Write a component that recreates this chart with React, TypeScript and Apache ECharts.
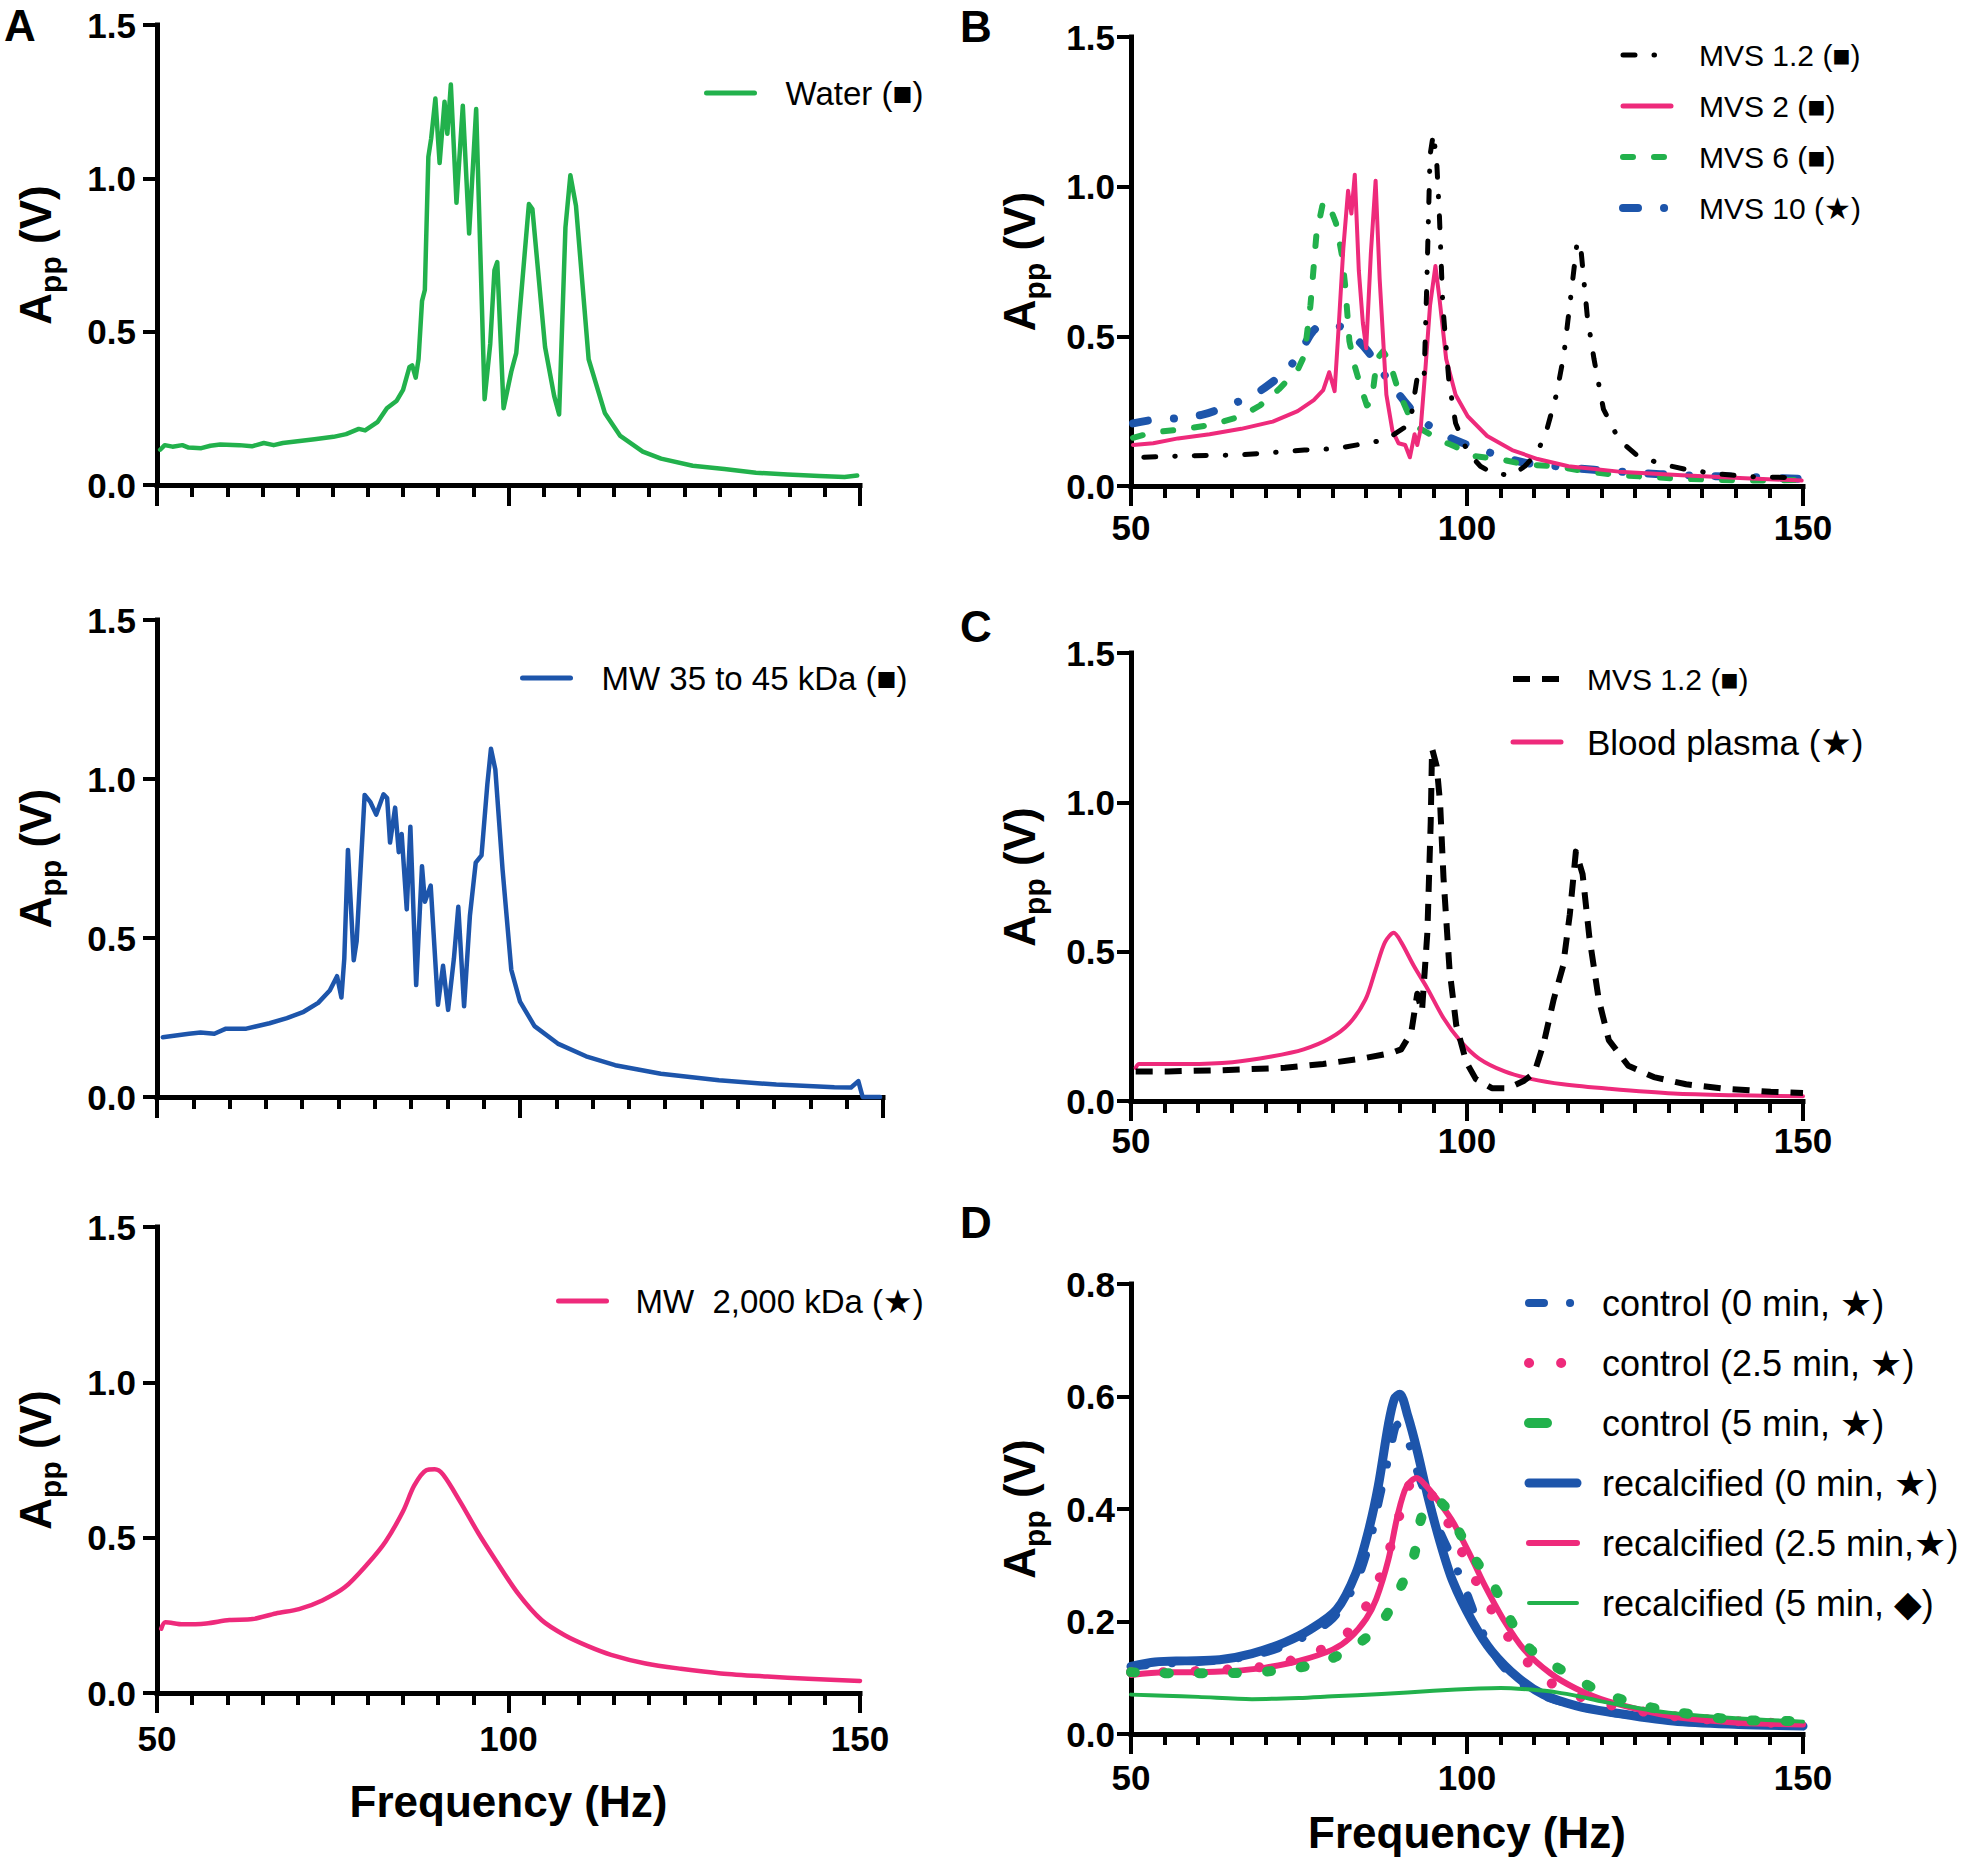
import React, { useEffect, useRef } from "react";
import * as echarts from "echarts";

const FONT = "'Liberation Sans', Arial, 'DejaVu Sans', sans-serif";
const GREEN = "#22b14c";
const BLUE = "#1d55ab";
const PINK = "#ee2a7b";
const BLACK = "#000000";

// Tick labels
const freqTicks = [50, 100, 150];
const ampTicks = [0, 0.5, 1.0, 1.5];
const ampTicksD = [0, 0.2, 0.4, 0.6, 0.8];

// Panel A (top): Water
const waterHz = [50.45, 51.1, 52.2, 53.6, 54.5, 56.3, 57.6, 59.0, 61.7, 63.5, 65.2, 66.6, 67.9, 72.4, 75.1, 76.9, 78.7, 79.6, 81.4, 82.7, 84.1, 85.0, 85.9, 86.3, 86.8, 87.2, 87.7, 88.1, 88.6, 89.0, 89.6, 90.2, 90.9, 91.3, 91.8, 92.6, 93.5, 94.4, 95.4, 96.6, 97.4, 98.0, 98.4, 99.3, 100.4, 101.1, 102.9, 103.4, 105.2, 106.5, 107.2, 108.1, 108.8, 109.6, 111.4, 113.7, 115.9, 119.1, 121.7, 126.2, 130.7, 135.2, 139.7, 144.2, 147.8, 149.6];
const waterAmp = [0.115, 0.13, 0.125, 0.13, 0.122, 0.12, 0.128, 0.132, 0.13, 0.126, 0.137, 0.13, 0.137, 0.149, 0.157, 0.166, 0.183, 0.178, 0.206, 0.25, 0.275, 0.31, 0.384, 0.39, 0.35, 0.41, 0.6, 0.636, 1.07, 1.13, 1.26, 1.05, 1.25, 1.145, 1.306, 0.92, 1.237, 0.82, 1.226, 0.28, 0.46, 0.7, 0.727, 0.25, 0.37, 0.43, 0.916, 0.9, 0.45, 0.29, 0.23, 0.84, 1.01, 0.91, 0.41, 0.235, 0.16, 0.109, 0.086, 0.063, 0.052, 0.04, 0.034, 0.029, 0.026, 0.031];

// Panel A (middle): MW 35 to 45 kDa
const mw35Hz = [50.8, 54.4, 56.0, 57.9, 59.5, 62.3, 65.5, 67.9, 70.2, 72.2, 73.8, 74.8, 75.4, 75.8, 76.3, 77.1, 77.5, 78.6, 79.4, 80.2, 81.2, 81.7, 82.1, 82.8, 83.3, 83.7, 84.4, 84.9, 85.7, 86.5, 86.9, 87.7, 88.7, 89.4, 90.1, 90.9, 91.5, 92.3, 93.1, 93.9, 94.7, 95.5, 96.0, 96.6, 97.6, 98.8, 100.0, 102.0, 105.2, 109.1, 113.1, 119.4, 127.4, 135.3, 143.3, 145.6, 146.6, 147.2, 149.6];
const mw35Amp = [0.188, 0.199, 0.203, 0.199, 0.215, 0.215, 0.232, 0.248, 0.268, 0.296, 0.335, 0.38, 0.313, 0.436, 0.777, 0.43, 0.49, 0.95, 0.927, 0.888, 0.952, 0.94, 0.8, 0.91, 0.77, 0.827, 0.59, 0.85, 0.352, 0.726, 0.614, 0.665, 0.29, 0.413, 0.274, 0.436, 0.598, 0.285, 0.57, 0.737, 0.76, 0.983, 1.095, 1.03, 0.715, 0.4, 0.3, 0.223, 0.168, 0.128, 0.1, 0.073, 0.053, 0.039, 0.031, 0.03, 0.05, 0.0, 0.0];

// Panel A (bottom): MW 2,000 kDa
const mw2000Hz = [50.6, 51.2, 53.7, 57.0, 60.3, 63.6, 66.9, 70.2, 73.5, 76.7, 80.0, 82.5, 85.0, 86.6, 88.3, 89.5, 90.7, 93.2, 95.7, 98.1, 101.4, 104.7, 108.0, 111.3, 114.6, 119.5, 124.5, 130.2, 136.8, 142.6, 150.0];
const mw2000Amp = [0.207, 0.228, 0.221, 0.224, 0.235, 0.238, 0.256, 0.27, 0.298, 0.34, 0.417, 0.487, 0.585, 0.668, 0.717, 0.72, 0.703, 0.613, 0.515, 0.43, 0.319, 0.235, 0.186, 0.151, 0.123, 0.095, 0.078, 0.063, 0.053, 0.046, 0.039];

// Panel B
const mvs12bHz = [51.9, 57.0, 66.4, 75.8, 80.5, 85.1, 88.0, 90.8, 91.7, 92.6, 93.6, 94.0, 94.5, 95.0, 95.5, 95.9, 96.4, 97.3, 98.3, 100.1, 102.0, 103.9, 106.7, 108.6, 110.5, 111.9, 113.3, 114.4, 115.6, 116.4, 117.0, 117.9, 118.9, 120.3, 122.6, 125.4, 129.2, 132.9, 136.7, 141.4, 149.8];
const mvs12bAmp = [0.096, 0.1, 0.104, 0.12, 0.125, 0.143, 0.155, 0.197, 0.233, 0.364, 0.35, 0.66, 1.105, 1.177, 1.08, 0.9, 0.603, 0.352, 0.21, 0.113, 0.066, 0.042, 0.036, 0.066, 0.113, 0.19, 0.305, 0.436, 0.663, 0.818, 0.78, 0.567, 0.424, 0.257, 0.155, 0.1, 0.072, 0.054, 0.042, 0.032, 0.027];

const mvs2Hz = [50.3, 53.3, 57.0, 61.7, 66.4, 71.1, 74.8, 77.2, 78.6, 79.5, 80.3, 80.9, 81.6, 82.3, 82.8, 83.3, 83.9, 84.5, 85.0, 85.7, 86.4, 87.0, 88.0, 88.9, 89.8, 90.8, 91.5, 92.2, 92.6, 93.1, 93.8, 94.5, 95.3, 95.9, 96.9, 98.3, 100.1, 103.0, 106.7, 110.5, 115.1, 122.6, 132.0, 141.4, 149.8];
const mvs2Amp = [0.137, 0.143, 0.159, 0.173, 0.191, 0.215, 0.25, 0.287, 0.32, 0.38, 0.317, 0.53, 0.795, 0.986, 0.91, 1.04, 0.72, 0.545, 0.46, 0.78, 1.02, 0.693, 0.305, 0.185, 0.143, 0.137, 0.096, 0.173, 0.137, 0.19, 0.388, 0.603, 0.735, 0.627, 0.424, 0.305, 0.233, 0.167, 0.12, 0.09, 0.066, 0.048, 0.036, 0.026, 0.018];

const mvs6Hz = [50.3, 53.3, 57.0, 61.7, 66.4, 69.2, 72.0, 74.8, 75.8, 76.7, 77.6, 78.6, 79.5, 80.5, 81.4, 81.9, 82.5, 83.3, 84.2, 85.1, 85.8, 86.6, 87.5, 88.4, 89.8, 91.2, 92.6, 94.5, 96.4, 98.3, 101.1, 104.8, 108.6, 113.3, 117.9, 122.6, 132.0, 141.4, 149.8];
const mvs6Amp = [0.161, 0.179, 0.188, 0.203, 0.233, 0.269, 0.323, 0.388, 0.436, 0.603, 0.842, 0.95, 0.937, 0.878, 0.77, 0.663, 0.484, 0.4, 0.33, 0.269, 0.28, 0.424, 0.45, 0.42, 0.317, 0.245, 0.197, 0.173, 0.149, 0.131, 0.1, 0.09, 0.072, 0.066, 0.048, 0.036, 0.024, 0.018, 0.02];

const mvs10Hz = [50.3, 53.3, 57.0, 60.8, 64.5, 68.3, 72.0, 73.9, 75.8, 77.2, 78.6, 80.0, 81.4, 83.3, 85.1, 86.6, 88.9, 91.2, 93.6, 96.4, 100.1, 103.9, 108.6, 113.3, 118.9, 125.4, 132.0, 141.4, 149.8];
const mvs10Amp = [0.209, 0.221, 0.227, 0.239, 0.269, 0.305, 0.364, 0.406, 0.472, 0.52, 0.538, 0.538, 0.53, 0.496, 0.454, 0.406, 0.335, 0.269, 0.215, 0.173, 0.137, 0.108, 0.078, 0.066, 0.054, 0.044, 0.036, 0.03, 0.024];

// Panel C
const mvs12cHz = [50.7, 55.5, 63.2, 72.9, 78.6, 84.4, 88.8, 90.2, 91.7, 92.6, 93.3, 94.1, 94.6, 94.8, 95.5, 96.0, 96.5, 97.4, 98.4, 99.9, 101.3, 103.7, 106.1, 108.5, 110.0, 111.4, 112.9, 114.3, 115.3, 116.2, 117.2, 118.2, 119.6, 121.1, 124.0, 127.8, 132.6, 138.4, 145.2, 150.0];
const mvs12cAmp = [0.099, 0.099, 0.103, 0.111, 0.124, 0.142, 0.161, 0.173, 0.229, 0.359, 0.3, 0.563, 0.934, 1.18, 1.12, 0.996, 0.749, 0.44, 0.254, 0.13, 0.074, 0.043, 0.043, 0.068, 0.093, 0.192, 0.34, 0.452, 0.625, 0.835, 0.76, 0.55, 0.34, 0.204, 0.118, 0.08, 0.056, 0.041, 0.031, 0.027];

const plasmaHz = [50.7, 51.2, 58.4, 65.1, 70.9, 75.7, 79.6, 82.5, 84.9, 86.4, 87.8, 89.1, 90.2, 92.1, 94.1, 96.5, 98.9, 101.8, 105.6, 109.5, 114.3, 121.1, 130.7, 140.4, 150.0];
const plasmaAmp = [0.111, 0.124, 0.124, 0.13, 0.149, 0.173, 0.21, 0.26, 0.34, 0.44, 0.532, 0.563, 0.532, 0.452, 0.377, 0.278, 0.204, 0.142, 0.099, 0.074, 0.056, 0.041, 0.025, 0.019, 0.016];

// Panel D
const ctrl0Hz = [50, 55, 60, 65, 70, 75, 80, 83.5, 85.5, 87, 88.5, 89.7, 91, 92.1, 94, 96, 97.9, 100, 101.8, 104.7, 108, 112, 117, 122, 130, 140, 150];
const ctrl0Amp = [0.12, 0.125, 0.128, 0.133, 0.145, 0.168, 0.205, 0.27, 0.34, 0.42, 0.5, 0.55, 0.53, 0.484, 0.42, 0.36, 0.31, 0.25, 0.194, 0.13, 0.09, 0.065, 0.048, 0.037, 0.027, 0.02, 0.016];

const ctrl25Hz = [50, 55, 60, 65, 70, 75, 80, 83, 86, 88, 89.5, 91, 92, 93.5, 95, 97, 99, 101, 103, 106, 110, 114, 120, 130, 140, 150];
const ctrl25Amp = [0.11, 0.11, 0.112, 0.115, 0.12, 0.135, 0.16, 0.19, 0.25, 0.31, 0.37, 0.43, 0.45, 0.445, 0.42, 0.38, 0.33, 0.28, 0.235, 0.175, 0.115, 0.08, 0.055, 0.033, 0.023, 0.018];

const ctrl5Hz = [50, 53.6, 58, 63.2, 71, 77.7, 82.5, 86.4, 88.3, 90.2, 92.1, 93.1, 94.1, 95.5, 97, 100, 101.8, 103.7, 106.6, 109.5, 115.3, 119.6, 125, 130.7, 140.4, 150];
const ctrl5Amp = [0.11, 0.108, 0.108, 0.108, 0.112, 0.125, 0.15, 0.186, 0.217, 0.263, 0.317, 0.38, 0.407, 0.415, 0.4, 0.333, 0.3, 0.27, 0.2, 0.15, 0.105, 0.077, 0.054, 0.04, 0.025, 0.023];

const recal0Hz = [50, 53.6, 58, 63.2, 68, 72.9, 76.7, 80.6, 83.5, 85.4, 86.8, 88.3, 89.2, 90, 91.2, 92.6, 94.1, 96, 97.9, 100.8, 103.7, 107.6, 111.4, 116.3, 121.1, 130.7, 140.4, 150];
const recal0Amp = [0.12, 0.128, 0.13, 0.132, 0.143, 0.163, 0.186, 0.221, 0.287, 0.364, 0.441, 0.55, 0.596, 0.604, 0.565, 0.503, 0.426, 0.341, 0.271, 0.2, 0.147, 0.1, 0.07, 0.05, 0.039, 0.023, 0.017, 0.014];

const recal25Hz = [50, 55, 60, 65, 70, 75, 80, 82.5, 85, 86.5, 88.3, 89.7, 91, 92.5, 94, 96, 98, 100.8, 102.7, 105.6, 108.5, 112.4, 116.2, 121, 130.7, 140.4, 150];
const recal25Amp = [0.105, 0.11, 0.11, 0.112, 0.118, 0.13, 0.15, 0.17, 0.205, 0.24, 0.31, 0.39, 0.44, 0.455, 0.44, 0.41, 0.375, 0.31, 0.263, 0.2, 0.15, 0.108, 0.081, 0.058, 0.031, 0.02, 0.017];

const recal5Hz = [50, 55, 60, 68, 75, 80, 87.3, 95, 101.8, 105, 109.5, 113.4, 117, 120, 125, 130, 140, 150];
const recal5Amp = [0.07, 0.068, 0.066, 0.062, 0.064, 0.067, 0.071, 0.077, 0.081, 0.082, 0.079, 0.074, 0.066, 0.058, 0.047, 0.038, 0.028, 0.022];

const pairs = (xs: number[], ys: number[]) => xs.map((x, i) => [x, ys[i]]);

function xAxisCfg(gridIndex: number, showLabels: boolean, labelMargin: number, name: string, nameGap: number, majorLen: number, minorLen: number) {
  return {
    type: "value",
    gridIndex,
    min: freqTicks[0],
    max: freqTicks[freqTicks.length - 1],
    interval: freqTicks[1] - freqTicks[0],
    axisLine: { show: true, onZero: false, lineStyle: { color: BLACK, width: 5, cap: "square" } },
    axisTick: { show: true, length: majorLen, lineStyle: { color: BLACK, width: 4 } },
    minorTick: { show: true, splitNumber: 10, length: minorLen, lineStyle: { color: BLACK, width: 4 } },
    splitLine: { show: false },
    minorSplitLine: { show: false },
    axisLabel: { show: showLabels, margin: labelMargin, fontSize: 35, fontWeight: "bold", color: BLACK, fontFamily: FONT },
    name,
    nameLocation: "middle",
    nameGap,
    nameTextStyle: { fontSize: 44, fontWeight: "bold", color: BLACK, fontFamily: FONT },
  };
}

function yAxisCfg(gridIndex: number, ticks: number[], labelMargin: number, nameGap: number) {
  return {
    type: "value",
    gridIndex,
    min: ticks[0],
    max: ticks[ticks.length - 1],
    interval: +(ticks[1] - ticks[0]).toFixed(3),
    axisLine: { show: true, onZero: false, lineStyle: { color: BLACK, width: 5, cap: "square" } },
    axisTick: { show: true, length: 14, lineStyle: { color: BLACK, width: 4 } },
    splitLine: { show: false },
    axisLabel: {
      margin: labelMargin,
      fontSize: 35,
      fontWeight: "bold",
      color: BLACK,
      fontFamily: FONT,
      formatter: (v: number) => v.toFixed(1),
    },
    name: "{a|A}{b|pp}{a| (V)}",
    nameLocation: "middle",
    nameRotate: 90,
    nameGap,
    nameTextStyle: {
      rich: {
        a: { fontSize: 44, fontWeight: "bold", fontFamily: FONT, color: BLACK, lineHeight: 60 },
        b: { fontSize: 30, fontWeight: "bold", fontFamily: FONT, color: BLACK, lineHeight: 40, verticalAlign: "bottom" },
      },
    },
  };
}

function line(name: string, idx: number, xs: number[], ys: number[], color: string, width: number, type: any, cap: string, smooth: number | boolean) {
  return {
    type: "line",
    name,
    xAxisIndex: idx,
    yAxisIndex: idx,
    data: pairs(xs, ys),
    showSymbol: false,
    symbol: "none",
    smooth,
    clip: false,
    silent: true,
    lineStyle: { color, width, type, cap, join: "round" },
    itemStyle: { color },
    emphasis: { disabled: true },
  };
}

const DASH_DOT_THIN = [12, 19, 0.5, 19];
const DASH_DOT_THICK = [15, 26, 0.1, 26];
const DASH_GREEN = [10, 21];
const DASH_BLACK = [17, 12];
const DOTS = [0.1, 32];
const DASH_SPARSE = [4, 30];
const DASH_LEGEND_GREEN = [18, 36];

function legendCfg(left: number, top: number, fontSize: number, lineHeight: number, gap: number, pad: number, items: any[], formatter?: (n: string) => string) {
  const cfg: any = {
    left,
    top,
    orient: "vertical",
    itemWidth: 48,
    itemHeight: 14,
    itemGap: gap,
    padding: 0,
    selectedMode: false,
    itemStyle: { opacity: 0 },
    textStyle: { fontFamily: FONT, fontSize, lineHeight, color: BLACK, padding: [0, 0, 0, pad] },
    data: items,
  };
  if (formatter) cfg.formatter = formatter;
  return cfg;
}

export default function App() {
  const ref = useRef<HTMLDivElement>(null);

  useEffect(() => {
    document.body.style.margin = "0";
    if (!ref.current) return;
    const chart = echarts.init(ref.current, undefined, { renderer: "svg" });

    const titleStyle = { fontSize: 44, fontWeight: "bold", color: BLACK, fontFamily: FONT };
    const option: any = {
      animation: false,
      backgroundColor: "#ffffff",
      title: [
        { text: "A", left: 4, top: 3, padding: 0, textStyle: titleStyle },
        { text: "B", left: 960, top: 4, padding: 0, textStyle: titleStyle },
        { text: "C", left: 960, top: 604, padding: 0, textStyle: titleStyle },
        { text: "D", left: 960, top: 1200, padding: 0, textStyle: titleStyle },
      ],
      grid: [
        { left: 157, top: 25, width: 703, height: 460, outerBoundsMode: "none" },
        { left: 157, top: 620, width: 726, height: 477, outerBoundsMode: "none" },
        { left: 157, top: 1227, width: 703, height: 466, outerBoundsMode: "none" },
        { left: 1131, top: 37, width: 672, height: 449, outerBoundsMode: "none" },
        { left: 1131, top: 653, width: 672, height: 448, outerBoundsMode: "none" },
        { left: 1131, top: 1284, width: 672, height: 450, outerBoundsMode: "none" },
      ],
      xAxis: [
        xAxisCfg(0, false, 26, "", 0, 21, 12),
        xAxisCfg(1, false, 26, "", 0, 21, 12),
        xAxisCfg(2, true, 28, "Frequency (Hz)", 86, 20, 12),
        xAxisCfg(3, true, 24, "", 0, 20, 12),
        xAxisCfg(4, true, 22, "", 0, 20, 12),
        xAxisCfg(5, true, 26, "Frequency (Hz)", 76, 20, 11),
      ],
      yAxis: [
        yAxisCfg(0, ampTicks, 21, 92),
        yAxisCfg(1, ampTicks, 21, 92),
        yAxisCfg(2, ampTicks, 21, 92),
        yAxisCfg(3, ampTicks, 16, 82),
        yAxisCfg(4, ampTicks, 16, 82),
        yAxisCfg(5, ampTicksD, 16, 82),
      ],
      legend: [
        legendCfg(704, 74, 33, 38, 10, 26, [{ name: "Water (■)", lineStyle: { width: 5 } }]),
        legendCfg(520, 659, 33, 38, 10, 26, [{ name: "MW 35 to 45 kDa (■)", lineStyle: { width: 5 } }]),
        legendCfg(556, 1282, 33, 38, 10, 24, [{ name: "MW  2,000 kDa (★)", lineStyle: { width: 5 } }]),
        legendCfg(1619, 37, 30, 36, 15, 23, [
          { name: "MVS 1.2 (■)", lineStyle: { width: 5, type: DASH_DOT_THIN, cap: "round" } },
          { name: "MVS 2 (■)", lineStyle: { width: 5 } },
          { name: "MVS 6 (■)", lineStyle: { width: 6, type: DASH_GREEN, cap: "round" } },
          { name: "MVS 10 (★)", lineStyle: { width: 8, type: DASH_DOT_THICK, cap: "round" } },
        ]),
        legendCfg(1510, 661, 30, 36, 25, 21, [
          { name: "MVS 1.2 (■) C", lineStyle: { width: 6, type: DASH_BLACK, cap: "butt" } },
          { name: "Blood plasma (★)", lineStyle: { width: 5 }, textStyle: { fontSize: 35, lineHeight: 40 } },
        ], (n: string) => n.replace(/ C$/, "")),
        legendCfg(1524, 1283, 36, 40, 20, 20, [
          { name: "control (0 min, ★)", lineStyle: { width: 8, type: DASH_DOT_THICK, cap: "round" } },
          { name: "control (2.5 min, ★)", lineStyle: { width: 10, type: DOTS, cap: "round" } },
          { name: "control (5 min, ★)", lineStyle: { width: 10, type: DASH_LEGEND_GREEN, cap: "round" } },
          { name: "recalcified (0 min, ★)", lineStyle: { width: 9 } },
          { name: "recalcified (2.5 min,★)", lineStyle: { width: 6 } },
          { name: "recalcified (5 min, ◆)", lineStyle: { width: 4 } },
        ]),
      ],
      series: [
        line("Water (■)", 0, waterHz, waterAmp, GREEN, 4.5, "solid", "round", false),
        line("MW 35 to 45 kDa (■)", 1, mw35Hz, mw35Amp, BLUE, 4.5, "solid", "round", false),
        line("MW  2,000 kDa (★)", 2, mw2000Hz, mw2000Amp, PINK, 4.5, "solid", "round", 0.3),

        line("MVS 10 (★)", 3, mvs10Hz, mvs10Amp, BLUE, 8, DASH_DOT_THICK, "round", 0.3),
        line("MVS 6 (■)", 3, mvs6Hz, mvs6Amp, GREEN, 6, DASH_GREEN, "round", false),
        line("MVS 2 (■)", 3, mvs2Hz, mvs2Amp, PINK, 4, "solid", "round", false),
        line("MVS 1.2 (■)", 3, mvs12bHz, mvs12bAmp, BLACK, 5, DASH_DOT_THIN, "round", false),

        line("Blood plasma (★)", 4, plasmaHz, plasmaAmp, PINK, 4, "solid", "round", 0.3),
        line("MVS 1.2 (■) C", 4, mvs12cHz, mvs12cAmp, BLACK, 6, DASH_BLACK, "butt", false),

        line("recalcified (0 min, ★)", 5, recal0Hz, recal0Amp, BLUE, 9, "solid", "round", 0.3),
        line("control (0 min, ★)", 5, ctrl0Hz, ctrl0Amp, BLUE, 8, DASH_DOT_THICK, "round", 0.3),
        line("recalcified (2.5 min,★)", 5, recal25Hz, recal25Amp, PINK, 6, "solid", "round", 0.3),
        line("control (2.5 min, ★)", 5, ctrl25Hz, ctrl25Amp, PINK, 10, DOTS, "round", 0.3),
        line("control (5 min, ★)", 5, ctrl5Hz, ctrl5Amp, GREEN, 10, DASH_SPARSE, "round", 0.3),
        line("recalcified (5 min, ◆)", 5, recal5Hz, recal5Amp, GREEN, 4, "solid", "round", 0.3),
      ],
    };

    chart.setOption(option);
    return () => {
      chart.dispose();
    };
  }, []);

  return <div ref={ref} style={{ width: 1975, height: 1860, background: "#fff" }} />;
}
